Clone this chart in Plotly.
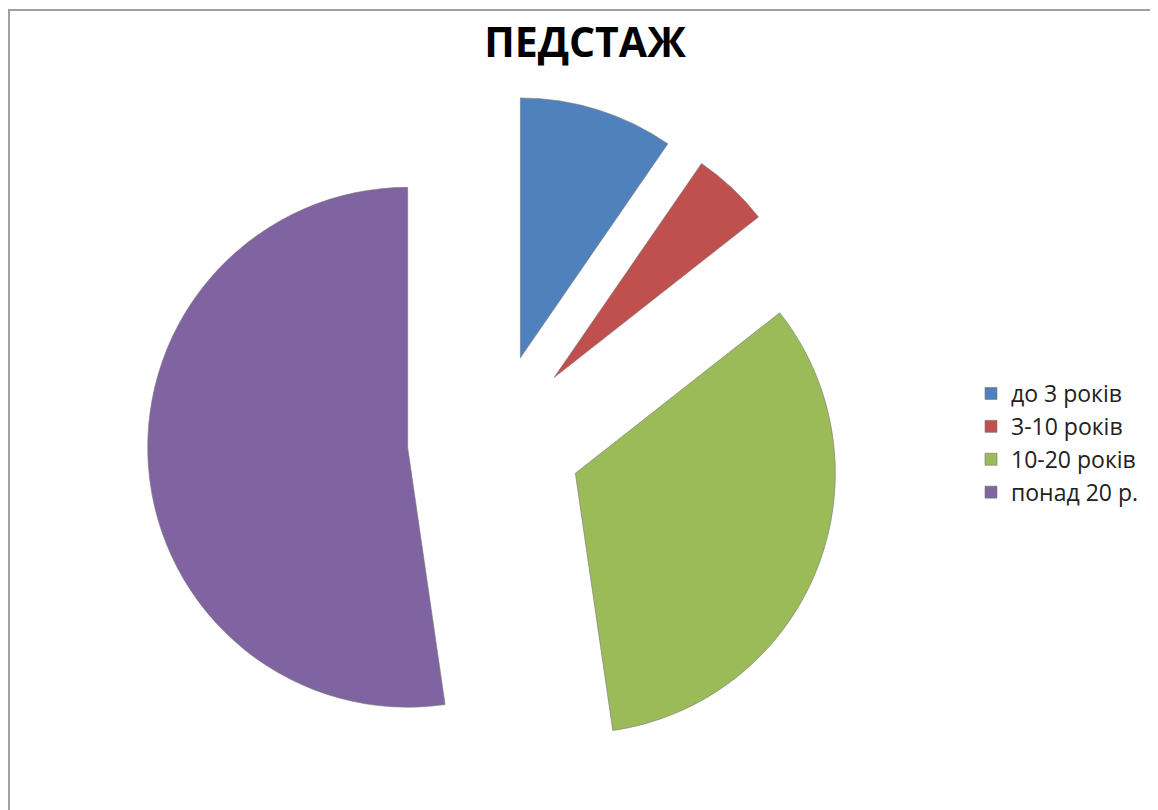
import plotly.graph_objects as go

labels = ["до 3 років", "3-10 років", "10-20 років", "понад 20 р."]
values = [9.6, 4.8, 33.3, 52.3]
colors = ["#4F81BD", "#C0504D", "#9BBB59", "#8064A2"]
pulls = [0.335, 0.335, 0.335, 0.335]

# page body has an 8px margin, so the figure is sized/positioned accordingly
W, H = 1150, 802
cx, cy, half = 486.5, 433, 347

fig = go.Figure(go.Pie(
    labels=labels,
    values=values,
    sort=False,
    direction="clockwise",
    rotation=0,
    pull=pulls,
    marker=dict(colors=colors, line=dict(color="rgba(120,120,120,0.6)", width=1)),
    textinfo="none",
    hoverinfo="label+percent",
    domain=dict(x=[(cx - half) / W, (cx + half) / W], y=[1 - (cy + half) / H, 1 - (cy - half) / H]),
))

fig.update_layout(
    width=W, height=H,
    margin=dict(l=0, r=0, t=0, b=0),
    paper_bgcolor="white",
    plot_bgcolor="white",
    title=dict(text="<b>ПЕДСТАЖ</b>", x=577 / W, xanchor="center", y=1 - 35 / H, yanchor="middle",
               font=dict(family="Open Sans", size=41, color="black")),
    legend=dict(x=963 / W, xanchor="left", y=1 - 435 / H, yanchor="middle",
                font=dict(family="Open Sans", size=23, color="#222"),
                itemwidth=30, bgcolor="rgba(0,0,0,0)"),
    showlegend=True,
    shapes=[
        dict(type="line", xref="paper", yref="paper", x0=0, x1=1, y0=1 - 2 / H, y1=1 - 2 / H,
             line=dict(color="#A0A0A0", width=2)),
        dict(type="line", xref="paper", yref="paper", x0=1 / W, x1=1 / W, y0=0, y1=1 - 2 / H,
             line=dict(color="#A0A0A0", width=2)),
    ],
)

fig.write_html("out.html")
